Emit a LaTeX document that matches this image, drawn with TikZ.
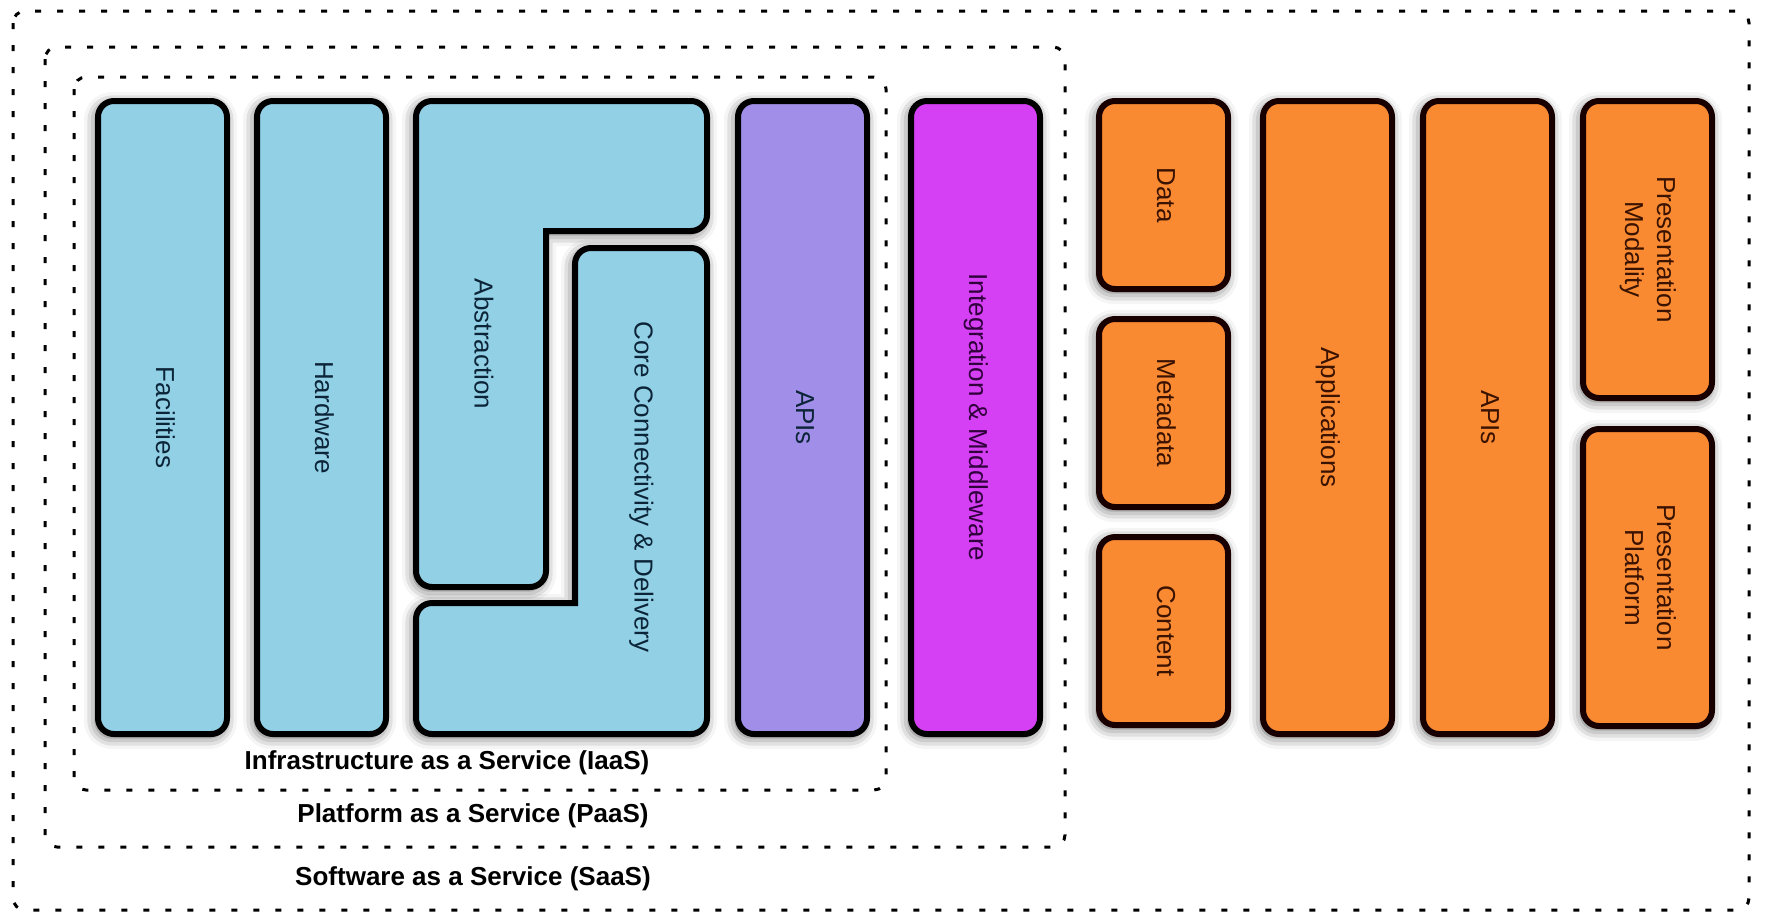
\documentclass[tikz,border=0pt]{standalone}
\usepackage{fontspec}
\setmainfont{Liberation Sans}
\usepackage{graphicx}
\usepackage{xcolor}
\usetikzlibrary{positioning, shadows.blur}
\definecolor{skyblue}{RGB}{146, 208, 230}
\definecolor{apiviolet}{RGB}{161, 142, 232}
\definecolor{midmagenta}{RGB}{214, 64, 244}
\definecolor{apporange}{RGB}{250, 138, 50}
\definecolor{navytext}{RGB}{12, 36, 56}
\definecolor{plumtext}{RGB}{48, 0, 60}
\definecolor{browntext}{RGB}{58, 18, 0}
\newcommand{\vlabel}[1]{\rotatebox{-90}{\begin{tabular}{@{}c@{}}#1\end{tabular}}}

\begin{document}
\begin{tikzpicture}[
    x=0.5pt, y=-0.5pt,
    font=\fontsize{13}{16}\selectfont,
    layer/.style={draw=black, line width=3pt, rounded corners=8pt, inner sep=0pt,
                  minimum width=64.5pt,
                  blur shadow={shadow xshift=-1pt, shadow yshift=-1.5pt,
                               shadow blur radius=6pt, shadow opacity=65}},
    tallcol/.style={layer, minimum height=316.5pt},
    infra/.style={fill=skyblue, text=navytext},
    apps/.style={fill=apporange, text=browntext, draw=black!90!red},
    tier/.style={draw=black, line width=1.5pt, dash pattern=on 3pt off 8pt,
                 rounded corners=6pt},
    tierlabel/.style={font=\fontsize{13}{16}\selectfont\bfseries}
]
    \useasboundingbox (0,0) rectangle (1765,917);

    % service tiers
    \draw[tier] (13,11) rectangle (1749,910);
    \draw[tier] (45,47) rectangle (1065,847);
    \draw[tier] (74,77) rectangle (886,790);
    \node[tierlabel] (iaas) at (447,763) {Infrastructure as a Service (IaaS)};
    \node[tierlabel] (paas) at (473,816) {Platform as a Service (PaaS)};
    \node[tierlabel] (saas) at (473,879) {Software as a Service (SaaS)};

    % infrastructure columns
    \node[tallcol, infra] (fac) at (162.5,417.5) {\vlabel{Facilities}};
    \node[tallcol, infra, right=12pt of fac] (hw) {\vlabel{Hardware}};
    \node[inner sep=0pt, outer sep=0pt, minimum width=148.5pt, minimum height=319.5pt,
          right=12pt of hw] (stack) {};
    \begin{scope}[shift={(stack.north west)}]
        \draw[layer, infra] (3,3) -- (294,3) -- (294,133) [sharp corners] -- (133,133)
            [rounded corners=8pt] -- (133,489) -- (3,489) -- cycle;
        \node[text=navytext] (abs) at (68,246) {\vlabel{Abstraction}};
        \draw[layer, infra] (3,636) -- (3,505) [sharp corners] -- (162,505)
            [rounded corners=8pt] -- (162,150) -- (294,150) -- (294,636) -- cycle;
        \node[text=navytext] (core) at (228,389) {\vlabel{Core Connectivity \& Delivery}};
    \end{scope}

    % platform columns
    \node[tallcol, fill=apiviolet, text=navytext, right=12.5pt of stack] (apis) {\vlabel{APIs}};
    \node[tallcol, fill=midmagenta, text=plumtext, right=19pt of apis] (integ) {\vlabel{Integration \& Middleware}};

    % software columns
    \node[layer, apps, minimum height=94pt, right=26.5pt of integ.north east, anchor=north west] (data) {\vlabel{Data}};
    \node[layer, apps, minimum height=94pt, below=12pt of data] (meta) {\vlabel{Metadata}};
    \node[layer, apps, minimum height=94pt, below=12pt of meta] (content) {\vlabel{Content}};
    \node[tallcol, apps, right=14.5pt of data.north east, anchor=north west] (appl) {\vlabel{Applications}};
    \node[tallcol, apps, right=12.5pt of appl] (swapis) {\vlabel{APIs}};
    \node[layer, apps, minimum height=148.5pt, right=12.5pt of swapis.north east, anchor=north west] (pmod) {\vlabel{Presentation\\Modality}};
    \node[layer, apps, minimum height=148.5pt, below=12.5pt of pmod] (pplat) {\vlabel{Presentation\\Platform}};
\end{tikzpicture}
\end{document}
